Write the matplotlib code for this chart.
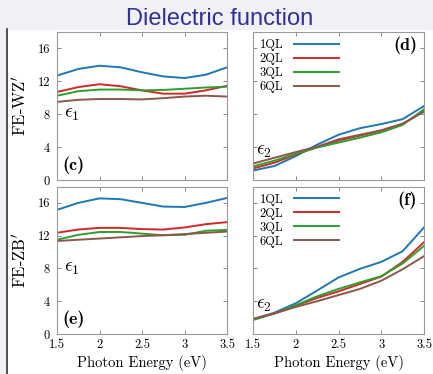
import matplotlib
matplotlib.use('Agg')
import matplotlib.pyplot as plt
from matplotlib.patches import Rectangle
from matplotlib.lines import Line2D

plt.rcParams['mathtext.fontset'] = 'cm'
plt.rcParams['axes.unicode_minus'] = False

energy = [1.5, 1.75, 2.0, 2.25, 2.5, 2.75, 3.0, 3.25, 3.5]
labels = ['1QL', '2QL', '3QL', '6QL']
colors = ['tab:blue', 'tab:red', 'tab:green', 'tab:brown']

# FE-WZ' real part (c)
wz_eps1 = [
    [12.7, 13.5, 13.9, 13.7, 13.1, 12.6, 12.4, 12.8, 13.7],
    [10.7, 11.3, 11.65, 11.4, 10.9, 10.5, 10.5, 10.9, 11.45],
    [10.25, 10.8, 11.0, 11.0, 10.9, 10.95, 11.1, 11.25, 11.35],
    [9.5, 9.75, 9.85, 9.85, 9.8, 9.95, 10.15, 10.25, 10.15],
]
# FE-WZ' imaginary part (d)
wz_eps2 = [
    [1.15, 1.7, 2.9, 4.3, 5.5, 6.3, 6.8, 7.4, 9.0],
    [1.4, 2.1, 3.1, 4.0, 4.8, 5.4, 6.0, 6.8, 8.4],
    [1.65, 2.35, 3.2, 3.95, 4.55, 5.15, 5.8, 6.7, 8.6],
    [2.0, 2.7, 3.4, 4.05, 4.95, 5.5, 6.05, 6.85, 8.3],
]
# FE-ZB' real part (e)
zb_eps1 = [
    [15.15, 16.0, 16.55, 16.45, 16.0, 15.55, 15.5, 16.0, 16.6],
    [12.35, 12.75, 12.95, 12.95, 12.8, 12.75, 13.0, 13.4, 13.65],
    [11.5, 12.1, 12.45, 12.45, 12.25, 12.05, 12.1, 12.6, 12.7],
    [11.35, 11.5, 11.65, 11.8, 11.95, 12.05, 12.2, 12.35, 12.5],
]
# FE-ZB' imaginary part (f)
zb_eps2 = [
    [1.8, 2.6, 3.75, 5.3, 6.9, 7.95, 8.8, 10.1, 13.0],
    [1.8, 2.5, 3.45, 4.4, 5.2, 6.1, 7.0, 8.8, 11.2],
    [1.7, 2.5, 3.5, 4.6, 5.5, 6.3, 7.05, 8.6, 10.75],
    [1.85, 2.5, 3.3, 4.0, 4.75, 5.5, 6.5, 7.9, 9.5],
]

W, H = 433, 374
fig = plt.figure(figsize=(W / 100, H / 100), dpi=100, facecolor='#f0f0f5')
fig.patches.append(Rectangle((8 / W, 0), 1 - 8 / W, (H - 30) / H,
                             transform=fig.transFigure, facecolor='white',
                             edgecolor='none', zorder=-5))
fig.lines.append(Line2D([7.5 / W, 7.5 / W], [0, (H - 29) / H],
                        transform=fig.transFigure, color='#333333', lw=1.2,
                        zorder=-4))
fig.text(220 / W, 1 - 19 / H, 'Dielectric function', ha='center', va='center',
         fontsize=17, color='#30309a', family='Liberation Sans')

serif = 'cmr10'
col_x = [57 / W, 253 / W]
col_w = [170 / W, 171 / W]
row_y = [(H - 180) / H, (H - 334) / H]
row_h = [148 / H, 147.5 / H]

panels = [
    (0, 0, wz_eps1, '(c)', r'$\epsilon_1$'),
    (0, 1, wz_eps2, '(d)', r'$\epsilon_2$'),
    (1, 0, zb_eps1, '(e)', r'$\epsilon_1$'),
    (1, 1, zb_eps2, '(f)', r'$\epsilon_2$'),
]

for r, c, data, tag, eps in panels:
    ax = fig.add_axes([col_x[c], row_y[r], col_w[c], row_h[r]])
    for ys, col, lab in zip(data, colors, labels):
        ax.plot(energy, ys, color=col, lw=1.4, label=lab)
    ax.set_xlim(1.5, 3.5)
    ax.set_ylim(0, 18)
    ax.set_xticks([1.5, 2, 2.5, 3, 3.5])
    ax.set_yticks([0, 4, 8, 12, 16])
    ax.set_xticklabels(['1.5', '2', '2.5', '3', '3.5'])
    ax.tick_params(direction='in', top=True, right=True, length=3,
                   width=0.6, color='#777777', labelsize=9)
    ax.tick_params(axis='y', pad=5)
    for lbl in ax.get_xticklabels() + ax.get_yticklabels():
        lbl.set_family(serif)
    for sp in ax.spines.values():
        sp.set_color('#999999')
        sp.set_linewidth(0.8)
    if r == 0:
        ax.tick_params(labelbottom=False)
    else:
        ax.set_xlabel('Photon Energy (eV)', family=serif, fontsize=10.5, labelpad=3)
    if c == 1:
        ax.tick_params(labelleft=False)
        ax.legend(loc='upper left', frameon=False, markerfirst=False,
                  handlelength=3.6, handletextpad=0.8, labelspacing=0.15,
                  borderaxespad=0.15, prop={'family': serif, 'size': 9})
        ax.text(0.96, 0.91, tag, transform=ax.transAxes, ha='right', va='center',
                family='cmb10', fontsize=13)
        ax.text(0.02, 0.2, eps, transform=ax.transAxes, ha='left', va='center',
                fontsize=14)
    else:
        ax.set_ylabel("FE-WZ$'$" if r == 0 else "FE-ZB$'$", family=serif,
                      fontsize=12, labelpad=6)
        ax.text(0.03, 0.1, tag, transform=ax.transAxes, ha='left', va='center',
                family='cmb10', fontsize=13)
        ax.text(0.04, 0.45, eps, transform=ax.transAxes, ha='left', va='center',
                fontsize=14)

fig.savefig('out.png', dpi=100, facecolor=fig.get_facecolor())
